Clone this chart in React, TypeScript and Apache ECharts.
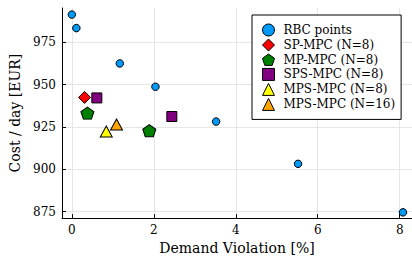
import React, { useEffect, useRef } from "react";
import * as echarts from "echarts";

const rbcX = [0, 0.11, 1.17, 2.04, 3.52, 5.52, 8.08];
const rbcY = [991.5, 983.5, 962.6, 948.8, 928.2, 903.2, 874.5];
const spX = [0.31];
const spY = [942.5];
const mpX = [0.38, 1.89];
const mpY = [933.2, 922.8];
const spsX = [0.61, 2.44];
const spsY = [942.2, 931.2];
const mps8X = [0.84];
const mps8Y = [922.3];
const mps16X = [1.09];
const mps16Y = [926.5];

const xTicks = [0, 2, 4, 6, 8];
const yTicks = [875, 900, 925, 950, 975];

const legendNames = [
  "RBC points",
  "SP-MPC (N=8)",
  "MP-MPC (N=8)",
  "SPS-MPC (N=8)",
  "MPS-MPC (N=8)",
  "MPS-MPC (N=16)",
];

const pentagon =
  "path://M0,-1 L0.951,-0.309 L0.588,0.809 L-0.588,0.809 L-0.951,-0.309 Z";

const FONT = "DejaVu Serif";

function pts(xs: number[], ys: number[]) {
  return xs.map((x, i) => [x, ys[i]]);
}

export default function App() {
  const ref = useRef<HTMLDivElement>(null);
  useEffect(() => {
    if (!ref.current) return;
    const chart = echarts.init(ref.current, null, { renderer: "svg" });
    const border = { borderColor: "#000", borderWidth: 1 };
    const mk = (name: string, xs: number[], ys: number[], symbol: string, size: any, color: string) => ({
      name,
      type: "scatter",
      data: pts(xs, ys),
      symbol,
      symbolSize: size,
      itemStyle: { color, opacity: 1, ...border },
      emphasis: { disabled: true },
    });
    const legendText = {
      fontFamily: FONT,
      fontSize: 12,
      color: "#000",
      rich: { t: { fontFamily: FONT, fontSize: 12, color: "#000", padding: [0, 0, 0, 4] } },
    };
    const icons = ["circle", "diamond", pentagon, "rect", "triangle", "triangle"];
    chart.setOption({
      animation: false,
      backgroundColor: "#fff",
      textStyle: { fontFamily: FONT },
      grid: { left: 60, top: 8, right: 0, bottom: 40, containLabel: false },
      xAxis: {
        type: "value",
        min: -0.24,
        max: 8.3,
        name: "Demand Violation [%]",
        nameLocation: "middle",
        nameGap: 22,
        nameTextStyle: { fontFamily: FONT, fontSize: 14, color: "#000" },
        axisLine: { show: true, onZero: false, lineStyle: { color: "#000", width: 1 } },
        axisTick: { show: true, inside: true, length: 4, customValues: xTicks, lineStyle: { color: "#000" } },
        axisLabel: { customValues: xTicks, fontFamily: FONT, fontSize: 12, color: "#000", margin: 6 },
        splitLine: { show: true, lineStyle: { color: "#e6e6e6", width: 1 } },
      },
      yAxis: {
        type: "value",
        min: 871.1,
        max: 995.4,
        name: "Cost / day [EUR]",
        nameLocation: "middle",
        nameGap: 40,
        nameTextStyle: { fontFamily: FONT, fontSize: 14, color: "#000" },
        axisLine: { show: true, onZero: false, lineStyle: { color: "#000", width: 1 } },
        axisTick: { show: true, inside: true, length: 4, customValues: yTicks, lineStyle: { color: "#000" } },
        axisLabel: { customValues: yTicks, fontFamily: FONT, fontSize: 12, color: "#000", margin: 6 },
        splitLine: { show: true, lineStyle: { color: "#e6e6e6", width: 1 } },
      },
      legend: {
        orient: "vertical",
        left: 252,
        top: 15,
        padding: [8.5, 6, 8.5, 10],
        itemWidth: 12,
        itemHeight: 12,
        itemGap: 2,
        backgroundColor: "#fff",
        borderColor: "#000",
        borderWidth: 1,
        borderRadius: 0,
        textStyle: legendText,
        formatter: (name: string) => "{t|" + name + "}",
        itemStyle: { borderColor: "#000", borderWidth: 1 },
        data: legendNames.map((name, i) => ({ name, icon: icons[i] })),
      },
      series: [
        mk(legendNames[0], rbcX, rbcY, "circle", 7.5, "#009AFA"),
        mk(legendNames[1], spX, spY, "diamond", 12, "#FF0000"),
        mk(legendNames[2], mpX, mpY, pentagon, [13, 12], "#008000"),
        mk(legendNames[3], spsX, spsY, "rect", 10, "#800080"),
        mk(legendNames[4], mps8X, mps8Y, "triangle", [12, 11], "#FFFF00"),
        mk(legendNames[5], mps16X, mps16Y, "triangle", [12, 11], "#FFA500"),
      ],
    });
    return () => chart.dispose();
  }, []);
  return (
    <div
      ref={ref}
      style={{ position: "absolute", left: 0, top: 0, width: 412, height: 260 }}
    />
  );
}
